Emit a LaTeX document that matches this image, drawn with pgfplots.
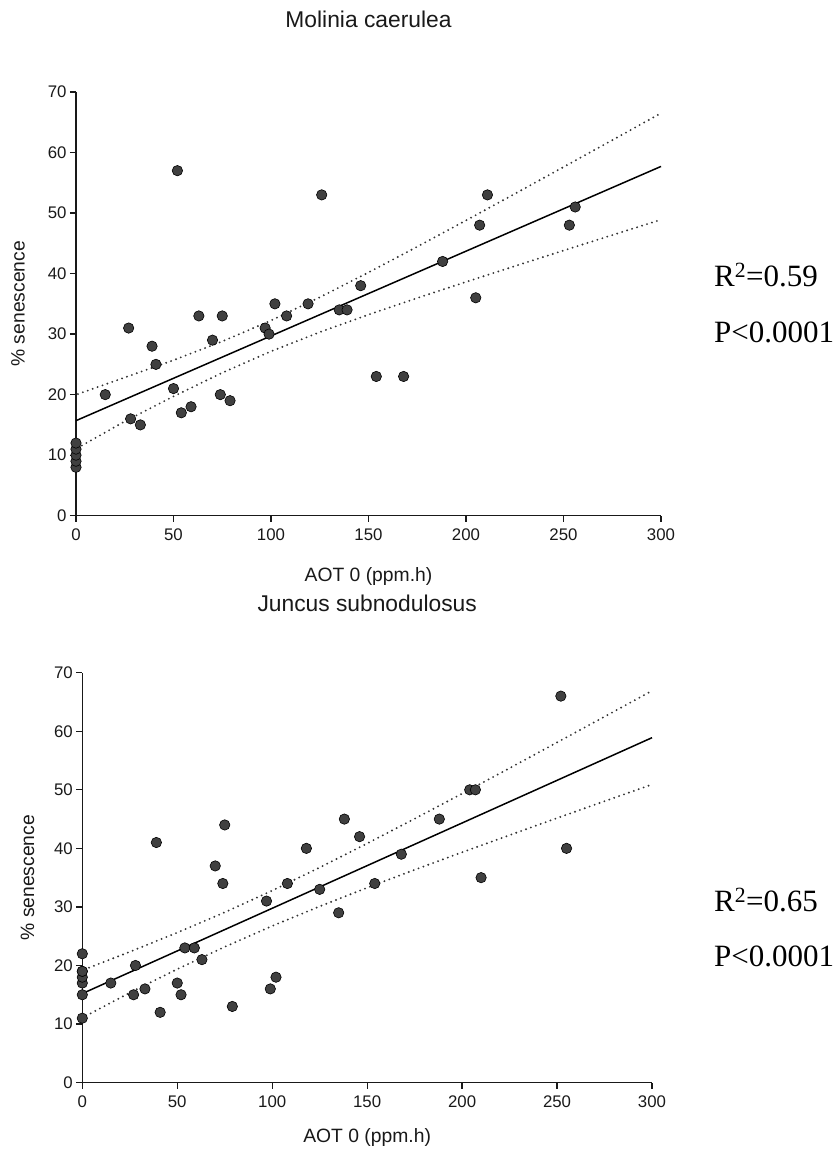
\documentclass[border=0pt]{standalone}
\usepackage{pgfplots}
\pgfplotsset{compat=1.18}
\usepackage{fontspec}
\setmainfont{Liberation Sans}
\newfontfamily\timesfont{Liberation Serif}
\begin{document}
\begin{tikzpicture}
\useasboundingbox (0,0) rectangle (839pt,1159pt);
\pgfplotsset{
  myax/.style={
    scale only axis, anchor=south west,
    xmin=0,xmax=300,ymin=0,ymax=70,
    axis lines=left, axis line style={-, line width=1.4pt, black!90},
    xtick={0,50,...,300}, ytick={0,10,...,70},
    tick align=outside, major tick length=6pt,
    tick style={line width=1.3pt, black!90},
    /pgf/number format/assume math mode=true,
    ticklabel style={font=\fontsize{16.8}{18}\selectfont, text=black!90},
    xticklabel style={yshift=-4pt},
    label style={font=\fontsize{19.3}{22}\selectfont, text=black!90},
    title style={font=\fontsize{22.8}{26}\selectfont, anchor=center, text=black!90},
    xlabel={AOT 0 (ppm.h)},
    ylabel={\% senescence},
    clip=false,
  },
  pts/.style={only marks, mark=*, mark size=5.2pt, mark options={fill=black!75, draw=black, line width=0.6pt}},
  fitl/.style={no marks, line width=1.5pt, black},
  band/.style={no marks, line width=2.1pt, black!80, line cap=round, dash pattern=on 0pt off 5.2pt},
}
% ---------------- top: Molinia caerulea
\begin{axis}[myax, at={(76pt,643.3pt)}, width=585pt, height=423.7pt,
  title={Molinia caerulea},
  title style={at={(axis description cs:0.5,1.158)}},
  xlabel style={at={(axis description cs:0.5,-0.144)}, anchor=center},
  ylabel style={at={(axis description cs:-0.099,0.5)}, anchor=center}]
\addplot[band] coordinates {(1,20.1) (25,22.83) (50,25.69) (75,28.79) (100,32.25) (125,36.08) (150,40.19) (175,44.44) (200,48.78) (225,53.17) (250,57.6) (275,62.04) (300,66.5)};
\addplot[band] coordinates {(3,11.6) (25,15.57) (50,19.71) (75,23.61) (100,27.15) (125,30.32) (150,33.21) (175,35.96) (200,38.62) (225,41.23) (250,43.8) (275,46.36) (300,48.9)};
\addplot[fitl] coordinates {(0,15.7) (300,57.7)};
\addplot[pts] table {
x y
0 8
0 9
0 10
0 11
0 12
15 20
27 31
28 16
33 15
39 28
41 25
50 21
52 57
54 17
59 18
63 33
70 29
74 20
75 33
79 19
97 31
99 30
102 35
108 33
119 35
126 53
135 34
139 34
146 38
154 23
168 23
188 42
205 36
207 48
211 53
253 48
256 51
};
\end{axis}
% ---------------- bottom: Juncus subnodulosus
\begin{axis}[myax, at={(82.3pt,76.4pt)}, width=569.7pt, height=409.9pt,
  title={Juncus subnodulosus},
  title style={at={(axis description cs:0.5,1.155)}},
  xlabel style={at={(axis description cs:0.5,-0.135)}, anchor=center},
  ylabel style={at={(axis description cs:-0.096,0.5)}, anchor=center}]
\addplot[band] coordinates {(1,19.3) (25,22.33) (50,25.61) (75,29.08) (100,32.79) (125,36.73) (150,40.84) (175,45.06) (200,49.35) (225,53.7) (250,58.09) (275,62.49) (300,66.91)};
\addplot[band] coordinates {(2,11.4) (25,15.35) (50,19.37) (75,23.18) (100,26.75) (125,30.09) (150,33.28) (175,36.34) (200,39.33) (225,42.26) (250,45.17) (275,48.05) (300,50.91)};
\addplot[fitl] coordinates {(0,15.2) (300,58.9)};
\addplot[pts] table {
x y
0 11
0 15
0 17
0 18
0 19
0 19
0 22
15 17
27 15
28 20
33 16
39 41
41 12
50 17
52 15
54 23
59 23
63 21
70 37
74 34
75 44
79 13
97 31
99 16
102 18
108 34
118 40
125 33
135 29
138 45
146 42
154 34
168 39
188 45
204 50
207 50
210 35
252 66
255 40
};
\end{axis}
% ---------------- statistics
\node[anchor=base west, font=\timesfont\fontsize{31}{34}\selectfont, inner sep=0pt] at (714pt,872pt) {R\textsuperscript{2}=0.59};
\node[anchor=base west, font=\timesfont\fontsize{31}{34}\selectfont, inner sep=0pt] at (714pt,816.5pt) {P<0.0001};
\node[anchor=base west, font=\timesfont\fontsize{31}{34}\selectfont, inner sep=0pt] at (714pt,247pt) {R\textsuperscript{2}=0.65};
\node[anchor=base west, font=\timesfont\fontsize{31}{34}\selectfont, inner sep=0pt] at (714pt,192pt) {P<0.0001};
\end{tikzpicture}
\end{document}
